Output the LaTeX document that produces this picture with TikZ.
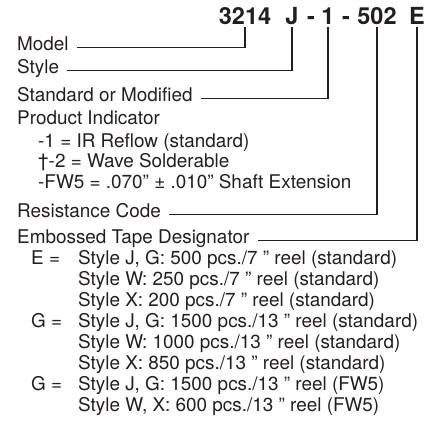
\documentclass[tikz,border=0pt]{standalone}
\usepackage{fontspec}
\setmainfont{TeX Gyre Heros}
\usetikzlibrary{positioning}

\definecolor{ink}{HTML}{231F20}

\tikzset{
    code/.style={font=\fontsize{23.5}{26}\selectfont\bfseries, text=ink,
        inner sep=3pt, anchor=base},
    part/.style={font=\fontsize{18.9}{21}\selectfont, text=ink,
        inner sep=0, anchor=base west},
    lead/.style={draw=ink, line width=1.2pt, shorten <=8pt}
}

\begin{document}
\begin{tikzpicture}[x=1pt,y=-1pt]

\useasboundingbox (0,0) rectangle (435,424);

% Part number

\node [code] (n3214) at (245,24) {3214};
\node [code] (nJ)    at (292,24) {J};
\node [code] (dashA) at (311,24) {-};
\node [code] (n1)    at (328,24) {1};
\node [code] (dashB) at (346,24) {-};
\node [code] (n502)  at (377,24) {502};
\node [code] (nE)    at (417,24) {E};

% Fields

\node [part] (model)    at (17,50)  {Model};
\node [part] (style)    at (17,73)  {Style};
\node [part] (standard) at (17,101) {Standard or Modified};
\node [part] (product)  at (17,124) {Product Indicator};
\node [part] (pi one)   at (38,147) {-1 = IR Reflow (standard)};
\node [part] (pi two)   at (38,167) {†-2 = Wave Solderable};
\node [part] (pi fw)    at (38,188) {-FW5 = .070” ± .010” Shaft Extension};
\node [part] (resist)   at (17,217) {Resistance Code};
\node [part] (tape)     at (17,243) {Embossed Tape Designator};

% Tape options

\node [part] (tape E)  at (31,264) {E =};
\node [part] (tape E1) at (78,264) {Style J, G: 500 pcs./7 ” reel (standard)};
\node [part] (tape E2) at (78,285) {Style W: 250 pcs./7 ” reel (standard)};
\node [part] (tape E3) at (78,306) {Style X: 200 pcs./7 ” reel (standard)};
\node [part] (tape G)  at (31,327) {G =};
\node [part] (tape G1) at (78,327) {Style J, G: 1500 pcs./13 ” reel (standard)};
\node [part] (tape G2) at (78,348) {Style W: 1000 pcs./13 ” reel (standard)};
\node [part] (tape G3) at (78,369) {Style X: 850 pcs./13 ” reel (standard)};
\node [part] (tape F)  at (31,390) {G =};
\node [part] (tape F1) at (78,390) {Style J, G: 1500 pcs./13 ” reel (FW5)};
\node [part] (tape F2) at (78,411) {Style W, X: 600 pcs./13 ” reel (FW5)};

% Leaders

\draw [lead] (model.mid east)    -| (n3214.south);
\draw [lead] (style.mid east)    -| (nJ.south);
\draw [lead] (standard.mid east) -| (n1.south);
\draw [lead] (resist.mid east)   -| (n502.south);
\draw [lead] (tape.mid east)     -| (nE.south);

\end{tikzpicture}
\end{document}
